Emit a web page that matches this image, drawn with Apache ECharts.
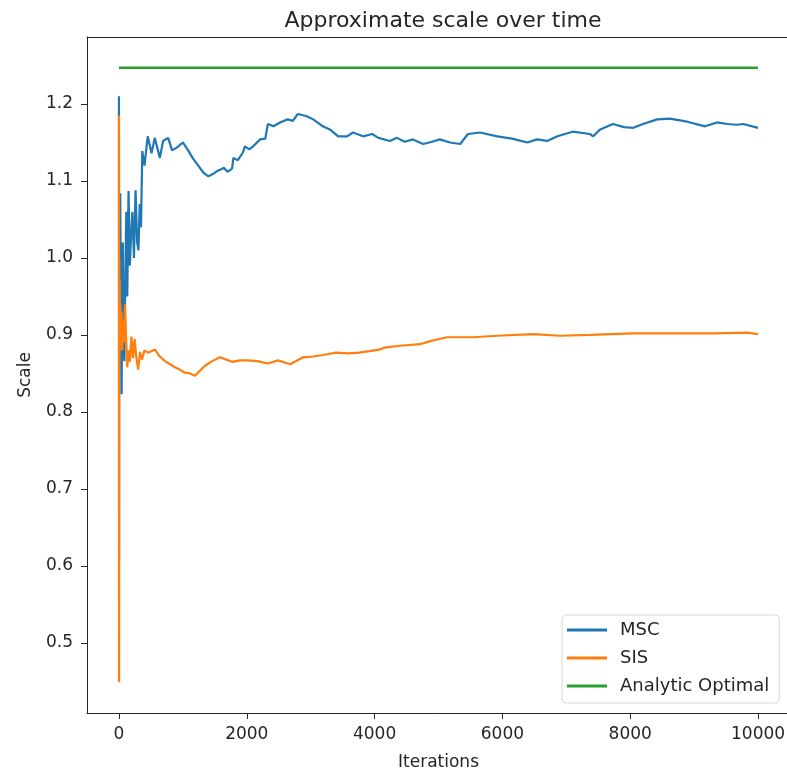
<!DOCTYPE html>
<html>
<head>
<meta charset="utf-8">
<style>
  html, body { margin: 0; padding: 0; background: #fff; }
  #chart { width: 787px; height: 773px; }
</style>
<script src="https://cdn.jsdelivr.net/npm/echarts@6/dist/echarts.min.js"></script>
</head>
<body>
<div id="chart"></div>
<script>
// Running estimate of the scale for each method, sampled along the iterations
const mscIter = [0, 1, 2, 4, 8, 14, 20, 28, 36, 42, 50, 60, 70, 85, 100, 115, 130, 150, 170, 190, 210, 235, 260, 285, 305, 325, 345, 365, 400, 450, 510, 560, 640, 690, 770, 830, 900, 1000, 1080, 1160, 1240, 1320, 1400, 1470, 1540, 1640, 1700, 1770, 1790, 1860, 1940, 1970, 2040, 2100, 2210, 2290, 2330, 2420, 2520, 2640, 2720, 2800, 2940, 3040, 3190, 3300, 3430, 3570, 3660, 3820, 3960, 4060, 4240, 4350, 4470, 4600, 4760, 4900, 5020, 5180, 5340, 5460, 5650, 5920, 6150, 6390, 6540, 6700, 6860, 7100, 7370, 7420, 7530, 7730, 7900, 8050, 8200, 8420, 8620, 8890, 9170, 9360, 9520, 9670, 9770, 9999];
const mscScale = [1.21, 0.95, 0.607, 1.0, 0.86, 1.05, 1.084, 0.97, 0.90, 0.823, 0.95, 1.02, 0.88, 0.866, 0.98, 1.06, 0.95, 1.087, 0.99, 1.03, 1.06, 1.0, 1.088, 1.02, 1.01, 1.07, 1.04, 1.139, 1.12, 1.158, 1.136, 1.156, 1.13, 1.152, 1.156, 1.14, 1.143, 1.15, 1.14, 1.129, 1.12, 1.111, 1.106, 1.109, 1.113, 1.117, 1.112, 1.116, 1.13, 1.127, 1.137, 1.145, 1.141, 1.145, 1.154, 1.155, 1.174, 1.171, 1.176, 1.180, 1.178, 1.187, 1.184, 1.180, 1.171, 1.167, 1.158, 1.158, 1.163, 1.158, 1.161, 1.156, 1.152, 1.156, 1.151, 1.154, 1.148, 1.151, 1.154, 1.150, 1.148, 1.161, 1.163, 1.158, 1.155, 1.150, 1.154, 1.152, 1.158, 1.164, 1.161, 1.158, 1.167, 1.174, 1.170, 1.169, 1.174, 1.180, 1.181, 1.177, 1.171, 1.176, 1.174, 1.173, 1.174, 1.169];

const sisIter = [0, 1, 2, 3, 5, 8, 12, 16, 22, 30, 40, 52, 65, 80, 95, 110, 130, 150, 170, 195, 220, 245, 270, 300, 330, 360, 400, 454, 563, 640, 720, 800, 876, 950, 1033, 1110, 1189, 1260, 1346, 1460, 1580, 1680, 1780, 1890, 2000, 2170, 2330, 2490, 2680, 2880, 3040, 3190, 3400, 3580, 3760, 3920, 4070, 4180, 4400, 4710, 4870, 5130, 5540, 5920, 6490, 6900, 7370, 8050, 8780, 9300, 9830, 9999];
const sisScale = [1.185, 0.75, 0.449, 0.8, 1.0, 0.86, 0.97, 0.88, 0.94, 0.9, 0.93, 0.88, 0.92, 0.89, 0.94, 0.9, 0.858, 0.88, 0.865, 0.898, 0.87, 0.895, 0.872, 0.855, 0.878, 0.868, 0.88, 0.877, 0.881, 0.872, 0.866, 0.862, 0.858, 0.855, 0.851, 0.850, 0.847, 0.853, 0.860, 0.866, 0.871, 0.868, 0.865, 0.867, 0.867, 0.866, 0.863, 0.867, 0.862, 0.871, 0.872, 0.874, 0.877, 0.876, 0.877, 0.879, 0.881, 0.884, 0.886, 0.888, 0.892, 0.897, 0.897, 0.899, 0.901, 0.899, 0.900, 0.902, 0.902, 0.902, 0.903, 0.901];

const optIter = [0, 9999];
const optScale = [1.247, 1.247];

const xTicks = [0, 2000, 4000, 6000, 8000, 10000];
const yTicks = [0.5, 0.6, 0.7, 0.8, 0.9, 1.0, 1.1, 1.2];

const pairs = (xs, ys) => xs.map((x, i) => [x, ys[i]]);

const FONT = 'DejaVu Sans';
const TXT = '#262626';
const SPINE = { color: '#262626', width: 1 };

const chart = echarts.init(document.getElementById('chart'), null, { renderer: 'canvas' });
chart.setOption({
  animation: false,
  backgroundColor: '#fff',
  title: {
    text: 'Approximate scale over time',
    left: 438, top: 5, textAlign: 'center',
    textStyle: { fontFamily: FONT, fontSize: 22, fontWeight: 'normal', color: TXT }
  },
  grid: { left: 87, top: 37, width: 703, height: 676, show: false,
          containLabel: false, outerBoundsMode: 'none' },
  legend: {
    orient: 'vertical', left: 562, top: 615,
    backgroundColor: '#fff', borderColor: '#d6d6d6', borderWidth: 1, borderRadius: 4,
    padding: [6, 10, 8, 5], itemGap: 10, itemWidth: 40, itemHeight: 3, icon: 'rect',
    textStyle: { fontFamily: FONT, fontSize: 18, color: TXT, padding: [0, 0, 0, 8] },
    data: ['MSC', 'SIS', 'Analytic Optimal']
  },
  xAxis: [{
    type: 'value', min: -500, max: 10500,
    name: 'Iterations', nameLocation: 'middle', nameGap: 41,
    nameTextStyle: { fontFamily: FONT, fontSize: 17, color: TXT },
    splitLine: { show: false },
    axisLine: { show: true, onZero: false, lineStyle: SPINE },
    axisTick: { show: true, length: 6, lineStyle: { color: '#262626' }, customValues: xTicks },
    axisLabel: { fontFamily: FONT, fontSize: 17, color: TXT, margin: 13, customValues: xTicks,
                 formatter: v => String(v) }
  }, {
    // top spine of the frame
    type: 'value', position: 'top', min: -500, max: 10500,
    splitLine: { show: false }, axisTick: { show: false }, axisLabel: { show: false },
    axisLine: { show: true, onZero: false, lineStyle: SPINE }
  }],
  yAxis: {
    type: 'value', min: 0.409, max: 1.287,
    name: 'Scale', nameLocation: 'middle', nameGap: 53, nameRotate: 90,
    nameTextStyle: { fontFamily: FONT, fontSize: 17, color: TXT },
    splitLine: { show: false },
    axisLine: { show: true, onZero: false, lineStyle: SPINE },
    axisTick: { show: true, length: 6, lineStyle: { color: '#262626' }, customValues: yTicks },
    axisLabel: { fontFamily: FONT, fontSize: 17, color: TXT, margin: 14, customValues: yTicks,
                 formatter: v => v.toFixed(1) }
  },
  series: [
    { name: 'MSC', type: 'line', data: pairs(mscIter, mscScale), showSymbol: false,
      lineStyle: { color: '#1f77b4', width: 2.2 }, itemStyle: { color: '#1f77b4' } },
    { name: 'SIS', type: 'line', data: pairs(sisIter, sisScale), showSymbol: false,
      lineStyle: { color: '#ff7f0e', width: 2.2 }, itemStyle: { color: '#ff7f0e' } },
    { name: 'Analytic Optimal', type: 'line', data: pairs(optIter, optScale), showSymbol: false,
      lineStyle: { color: '#2ca02c', width: 2.5 }, itemStyle: { color: '#2ca02c' } }
  ]
});
</script>
</body>
</html>
